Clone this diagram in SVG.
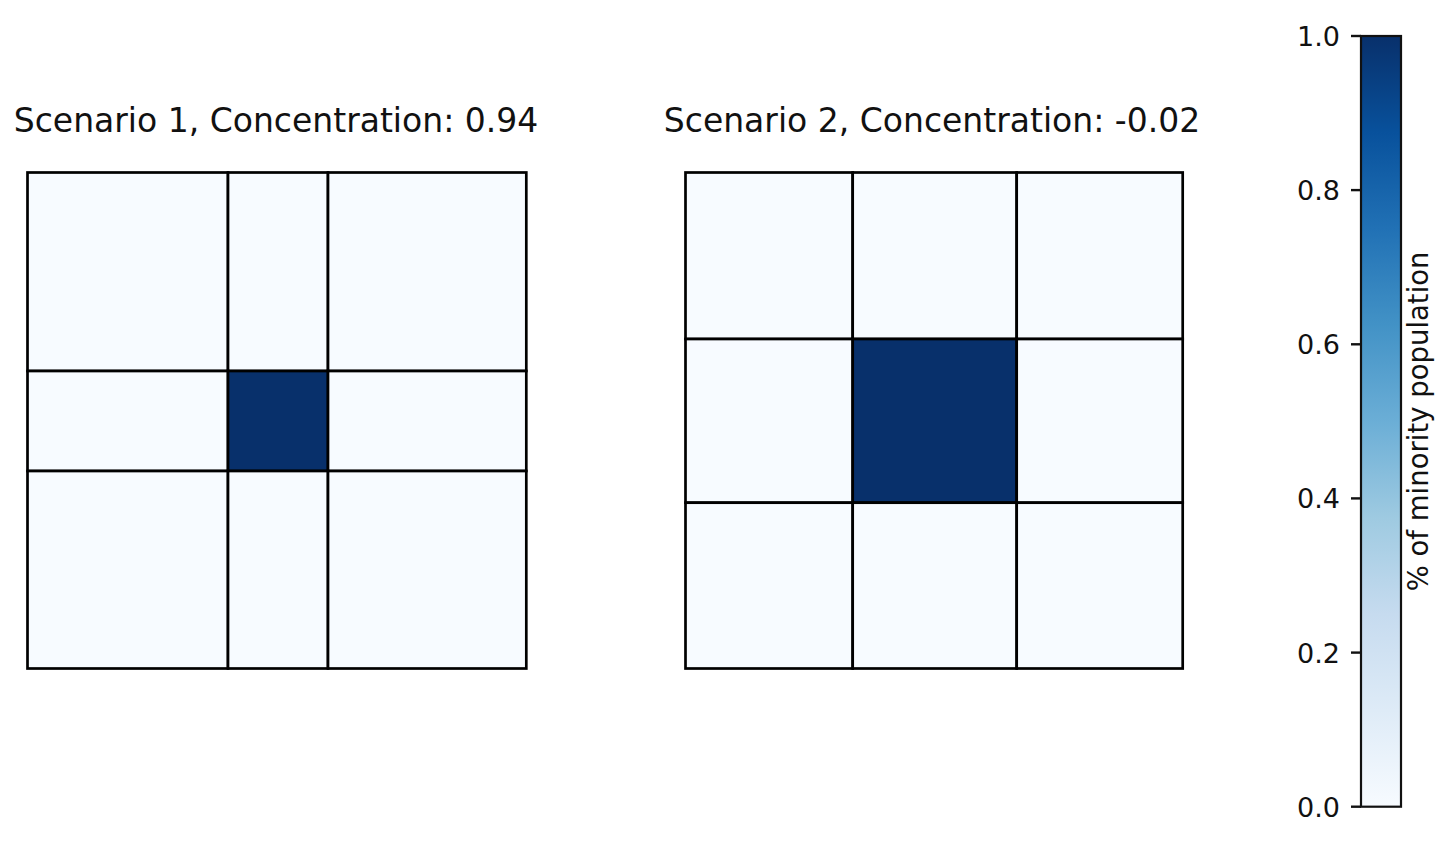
<svg xmlns="http://www.w3.org/2000/svg" width="1452" height="844" viewBox="0 0 1452 844">
<style>
text{font-family:"DejaVu Sans","Liberation Sans",sans-serif;fill:#111}
.title{font-size:33px;text-anchor:middle}
.tick{font-size:27px;text-anchor:end}
.cbl{font-size:27.5px;text-anchor:middle}
.lt{fill:#f7fbff;stroke:#000;stroke-width:2.7}
.dk{fill:#08306b;stroke:#000;stroke-width:2.7}
.tk{stroke:#111;stroke-width:2.4}
</style>
<defs>
<linearGradient id="blues" x1="0" y1="1" x2="0" y2="0">
<stop offset="0" stop-color="#f7fbff"/>
<stop offset="0.125" stop-color="#deebf7"/>
<stop offset="0.25" stop-color="#c6dbef"/>
<stop offset="0.375" stop-color="#9ecae1"/>
<stop offset="0.5" stop-color="#6baed6"/>
<stop offset="0.625" stop-color="#4292c6"/>
<stop offset="0.75" stop-color="#2171b5"/>
<stop offset="0.875" stop-color="#08519c"/>
<stop offset="1" stop-color="#08306b"/>
</linearGradient>
</defs>
<rect width="1452" height="844" fill="#fff"/>
<g id="scenario1">
<text class="title" x="276" y="132">Scenario 1, Concentration: 0.94</text>
<rect class="lt" x="27.5" y="172.5" width="200.5" height="198.5"/>
<rect class="lt" x="228" y="172.5" width="100" height="198.5"/>
<rect class="lt" x="328" y="172.5" width="198.3" height="198.5"/>
<rect class="lt" x="27.5" y="371" width="200.5" height="100"/>
<rect class="dk" x="228" y="371" width="100" height="100"/>
<rect class="lt" x="328" y="371" width="198.3" height="100"/>
<rect class="lt" x="27.5" y="471" width="200.5" height="197.5"/>
<rect class="lt" x="228" y="471" width="100" height="197.5"/>
<rect class="lt" x="328" y="471" width="198.3" height="197.5"/>
</g>
<g id="scenario2">
<text class="title" x="932" y="132">Scenario 2, Concentration: -0.02</text>
<rect class="lt" x="685.5" y="172.5" width="167.2" height="166.5"/>
<rect class="lt" x="852.7" y="172.5" width="164" height="166.5"/>
<rect class="lt" x="1016.7" y="172.5" width="166" height="166.5"/>
<rect class="lt" x="685.5" y="339" width="167.2" height="163.7"/>
<rect class="dk" x="852.7" y="339" width="164" height="163.7"/>
<rect class="lt" x="1016.7" y="339" width="166" height="163.7"/>
<rect class="lt" x="685.5" y="502.7" width="167.2" height="165.8"/>
<rect class="lt" x="852.7" y="502.7" width="164" height="165.8"/>
<rect class="lt" x="1016.7" y="502.7" width="166" height="165.8"/>
</g>
<g id="colorbar">
<rect x="1361" y="36" width="40" height="770.7" fill="url(#blues)" stroke="#111" stroke-width="2.2"/>
<line class="tk" x1="1351" y1="36" x2="1361" y2="36"/>
<line class="tk" x1="1351" y1="190.1" x2="1361" y2="190.1"/>
<line class="tk" x1="1351" y1="344.3" x2="1361" y2="344.3"/>
<line class="tk" x1="1351" y1="498.4" x2="1361" y2="498.4"/>
<line class="tk" x1="1351" y1="652.6" x2="1361" y2="652.6"/>
<line class="tk" x1="1351" y1="806.7" x2="1361" y2="806.7"/>
<text class="tick" x="1340" y="46">1.0</text>
<text class="tick" x="1340" y="200.1">0.8</text>
<text class="tick" x="1340" y="354.3">0.6</text>
<text class="tick" x="1340" y="508.4">0.4</text>
<text class="tick" x="1340" y="662.6">0.2</text>
<text class="tick" x="1340" y="816.7">0.0</text>
<text class="cbl" transform="translate(1428,421.4) rotate(-90)">% of minority population</text>
</g>
</svg>
